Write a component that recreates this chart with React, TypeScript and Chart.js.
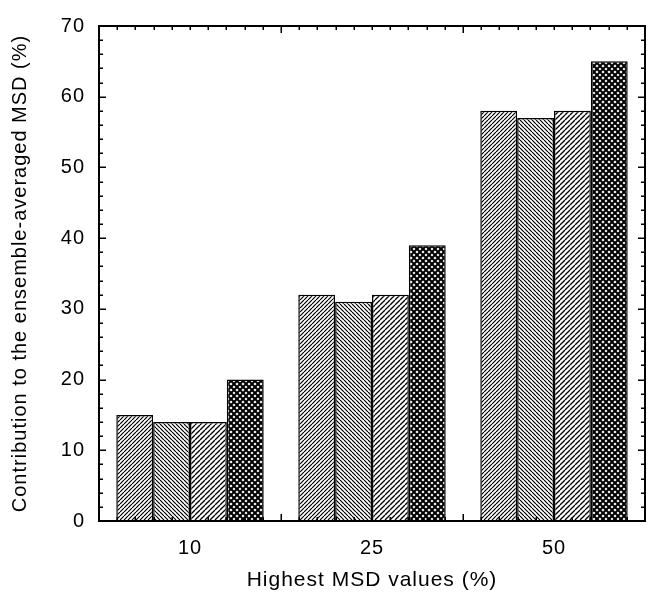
import React, { useEffect, useRef } from 'react';
import { Chart, registerables } from 'chart.js';

Chart.register(...registerables);

const categories = ['10', '25', '50'];
const seriesA = [15, 32, 58];
const seriesB = [14, 31, 57];
const seriesC = [14, 32, 58];
const seriesD = [20, 39, 65];
const yTickValues = [0, 10, 20, 30, 40, 50, 60, 70];
const xTitle = 'Highest MSD values (%)';
const yTitle = 'Contribution to the ensemble-averaged MSD (%)';

const FAMILY = "'Liberation Sans', Arial, Helvetica, sans-serif";
const FONT = { family: FAMILY, size: 20 };
const XTITLE_FONT = { family: FAMILY, size: 21 };

function makePattern(kind: string, p: number, lw: number): CanvasPattern | string {
  const c = document.createElement('canvas');
  c.width = p;
  c.height = p;
  const g = c.getContext('2d');
  if (!g) return '#fff';
  g.fillStyle = '#fff';
  g.fillRect(0, 0, p, p);
  g.strokeStyle = '#000';
  g.lineWidth = lw;
  const slash = () => {
    for (let k = -1; k <= 1; k++) {
      g.beginPath();
      g.moveTo(k * p, p);
      g.lineTo(k * p + p, 0);
      g.stroke();
    }
  };
  const back = () => {
    for (let k = -1; k <= 1; k++) {
      g.beginPath();
      g.moveTo(k * p, 0);
      g.lineTo(k * p + p, p);
      g.stroke();
    }
  };
  if (kind === 'slash') slash();
  else if (kind === 'back') back();
  else {
    slash();
    back();
  }
  const pat = g.createPattern(c, 'repeat');
  return pat || '#fff';
}

const framePlugin = {
  id: 'frameTicks',
  beforeUpdate(chart: any) {
    try { chart.ctx.letterSpacing = '1px'; } catch (e) {}
  },
  beforeDraw(chart: any) {
    try { chart.ctx.letterSpacing = '1px'; } catch (e) {}
  },
  afterDatasetsDraw(chart: any) {
    const { ctx, chartArea: a, scales } = chart;
    const x = scales.x;
    const y = scales.y;
    ctx.save();
    ctx.strokeStyle = '#000';
    ctx.lineWidth = 2;
    ctx.strokeRect(a.left, a.top, a.right - a.left, a.bottom - a.top);
    ctx.lineWidth = 1.5;
    const line = (x1: number, y1: number, x2: number, y2: number) => {
      ctx.beginPath();
      ctx.moveTo(x1, y1);
      ctx.lineTo(x2, y2);
      ctx.stroke();
    };
    const majorLen = 7;
    const minorLen = 4;
    for (let i = 0; i < yTickValues.length; i++) {
      const py = Math.round(y.getPixelForValue(yTickValues[i])) + 0.25;
      line(a.left, py, a.left + majorLen, py);
      line(a.right, py, a.right - majorLen, py);
      if (i < yTickValues.length - 1) {
        const v0 = yTickValues[i];
        const v1 = yTickValues[i + 1];
        for (let j = 1; j < 5; j++) {
          const v = v0 + ((v1 - v0) * j) / 5;
          const pm = Math.round(y.getPixelForValue(v)) + 0.25;
          line(a.left, pm, a.left + minorLen, pm);
          line(a.right, pm, a.right - minorLen, pm);
        }
      }
    }
    const n = categories.length;
    const w = x.getPixelForValue(1) - x.getPixelForValue(0);
    for (let i = 0; i < n; i++) {
      const start = x.getPixelForValue(i) - w / 2;
      if (i > 0) {
        const px = Math.round(start) + 0.25;
        line(px, a.bottom, px, a.bottom - majorLen);
        line(px, a.top, px, a.top + majorLen);
      }
      for (let j = 1; j < 10; j++) {
        const px = Math.round(start + (w * j) / 10) + 0.25;
        line(px, a.bottom, px, a.bottom - minorLen);
        line(px, a.top, px, a.top + minorLen);
      }
    }
    ctx.restore();
  },
};

export default function App() {
  const ref = useRef<HTMLCanvasElement | null>(null);
  useEffect(() => {
    document.body.style.margin = '0';
    const canvas = ref.current;
    if (!canvas) return;
    const pA = makePattern('slash', 4, 1.2);
    const pB = makePattern('back', 4, 1.2);
    const pC = makePattern('slash', 5, 1.3);
    const pD = makePattern('cross', 6, 2);
    const common = {
      borderColor: '#000',
      borderWidth: 1.5,
      categoryPercentage: 0.81,
      barPercentage: 1.0,
    };
    const chart = new Chart(canvas, {
      type: 'bar',
      data: {
        labels: categories,
        datasets: [
          { label: 'A', data: seriesA, backgroundColor: pA as any, ...common },
          { label: 'B', data: seriesB, backgroundColor: pB as any, ...common },
          { label: 'C', data: seriesC, backgroundColor: pC as any, ...common },
          { label: 'D', data: seriesD, backgroundColor: pD as any, ...common },
        ],
      },
      options: {
        animation: false,
        responsive: false,
        maintainAspectRatio: false,
        layout: { padding: { top: 25, right: 4, left: 0, bottom: 0 } },
        plugins: { legend: { display: false }, tooltip: { enabled: false } },
        scales: {
          x: {
            type: 'category',
            offset: true,
            grid: { display: false, drawTicks: false },
            border: { display: false },
            ticks: { color: '#000', font: FONT, padding: 15, maxRotation: 0, autoSkip: false },
            title: { display: true, text: xTitle, color: '#000', font: XTITLE_FONT, padding: { top: 1, bottom: 1 } },
            afterFit(s: any) { s.height = 73; },
          },
          y: {
            min: 0,
            max: 70,
            grid: { display: false, drawTicks: false },
            border: { display: false },
            ticks: { stepSize: 10, color: '#000', font: FONT, padding: 14 },
            title: { display: true, text: yTitle, color: '#000', font: FONT, padding: { top: 8, bottom: 8 } },
            afterFit(s: any) { s.width = 99; },
          },
        },
      },
      plugins: [framePlugin],
    } as any);
    return () => chart.destroy();
  }, []);
  return (
    <div style={{ width: 649, height: 594 }}>
      <canvas ref={ref} width={649} height={594} />
    </div>
  );
}
